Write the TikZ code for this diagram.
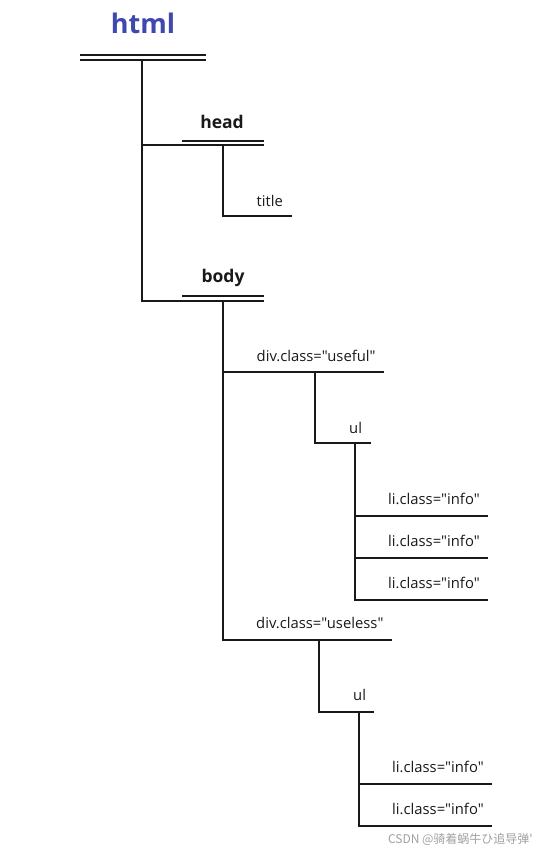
\documentclass[tikz,border=0pt]{standalone}
\usepackage{fontspec}
\setmainfont{Open Sans}[Ligatures=TeXOff]
\newfontfamily\cjkfont{Noto Sans CJK SC}
\definecolor{htmlblue}{HTML}{3F48B0}
\definecolor{wmgray}{HTML}{A0A0A0}
\begin{document}
\begin{tikzpicture}[x=1pt,y=-1pt,
  treeline/.style={line width=2pt,black!90,line cap=rect},
  lbl/.style={anchor=base west,inner sep=0pt,font=\fontsize{14.8}{16}\selectfont,text=black!90},
  bold lbl/.style={anchor=base,inner sep=0pt,font=\fontsize{17.5}{20}\selectfont\bfseries,text=black!90}]
\useasboundingbox (0,0) rectangle (543,854);
% texts
\node[anchor=base,inner sep=0pt,font=\fontsize{27}{30}\selectfont\bfseries,text=htmlblue] (thtml) at (143,33) {html};
\node[bold lbl] (thead) at (222,128) {head};
\node[lbl] (ttitle) at (256.5,206) {title};
\node[bold lbl] (tbody) at (223,282) {body};
\node[lbl] (tuseful) at (256.5,361) {div.class="useful"};
\node[lbl] (tul1) at (349,433) {ul};
\node[lbl] (tli1) at (388,504.5) {li.class="info"};
\node[lbl] (tli2) at (388,546.5) {li.class="info"};
\node[lbl] (tli3) at (388,588.5) {li.class="info"};
\node[lbl] (tuseless) at (256,628.5) {div.class="useless"};
\node[lbl] (tul2) at (353,700.5) {ul};
\node[lbl] (tli4) at (392,772) {li.class="info"};
\node[lbl] (tli5) at (392,814) {li.class="info"};
\node[anchor=base east,inner sep=0pt,font=\cjkfont\fontsize{12}{14}\selectfont,text=wmgray] (wm) at (533,843) {CSDN @骑着蜗牛ひ追导弹'};
% coordinates
\coordinate (h1a) at (81,55); \coordinate (h1b) at (205,55);
\coordinate (h2a) at (81,60); \coordinate (h2b) at (205,60);
\coordinate (hv) at (142,60);
\coordinate (headtopa) at (183,141); \coordinate (headtopb) at (263,141);
\coordinate (headbot) at (142,145); \coordinate (headbotb) at (263,145);
\coordinate (headv) at (223,145);
\coordinate (titlea) at (223,216); \coordinate (titleb) at (291,216);
\coordinate (bodytopa) at (183,296); \coordinate (bodytopb) at (263,296);
\coordinate (bodybot) at (142,300.5); \coordinate (bodybotb) at (263,300.5);
\coordinate (bodyv) at (223,300.5);
\coordinate (usefula) at (223,372); \coordinate (usefulb) at (383,372);
\coordinate (usefulv) at (315,372);
\coordinate (ul1a) at (315,443); \coordinate (ul1b) at (370,443);
\coordinate (ul1v) at (355,443);
\coordinate (li1a) at (355,516); \coordinate (li1b) at (487,516);
\coordinate (li2a) at (355,558); \coordinate (li2b) at (487,558);
\coordinate (li3a) at (355,600); \coordinate (li3b) at (487,600);
\coordinate (uselessa) at (223,640); \coordinate (uselessb) at (391,640);
\coordinate (uselessv) at (319,640);
\coordinate (ul2a) at (319,712); \coordinate (ul2b) at (373,712);
\coordinate (ul2v) at (359,712);
\coordinate (li4a) at (359,783.5); \coordinate (li4b) at (491,783.5);
\coordinate (li5a) at (359,825.5); \coordinate (li5b) at (491,825.5);
% lines
\draw[treeline] (h1a) -- (h1b);
\draw[treeline] (h2a) -- (h2b);
\draw[treeline] (hv) -- (bodybot) -- (bodybotb);
\draw[treeline] (headtopa) -- (headtopb);
\draw[treeline] (headbot) -- (headbotb);
\draw[treeline] (headv) -- (titlea) -- (titleb);
\draw[treeline] (bodytopa) -- (bodytopb);
\draw[treeline] (bodyv) -- (uselessa) -- (uselessb);
\draw[treeline] (usefula) -- (usefulb);
\draw[treeline] (usefulv) -- (ul1a) -- (ul1b);
\draw[treeline] (ul1v) -- (li3a) -- (li3b);
\draw[treeline] (li1a) -- (li1b);
\draw[treeline] (li2a) -- (li2b);
\draw[treeline] (uselessv) -- (ul2a) -- (ul2b);
\draw[treeline] (ul2v) -- (li5a) -- (li5b);
\draw[treeline] (li4a) -- (li4b);
\end{tikzpicture}
\end{document}
